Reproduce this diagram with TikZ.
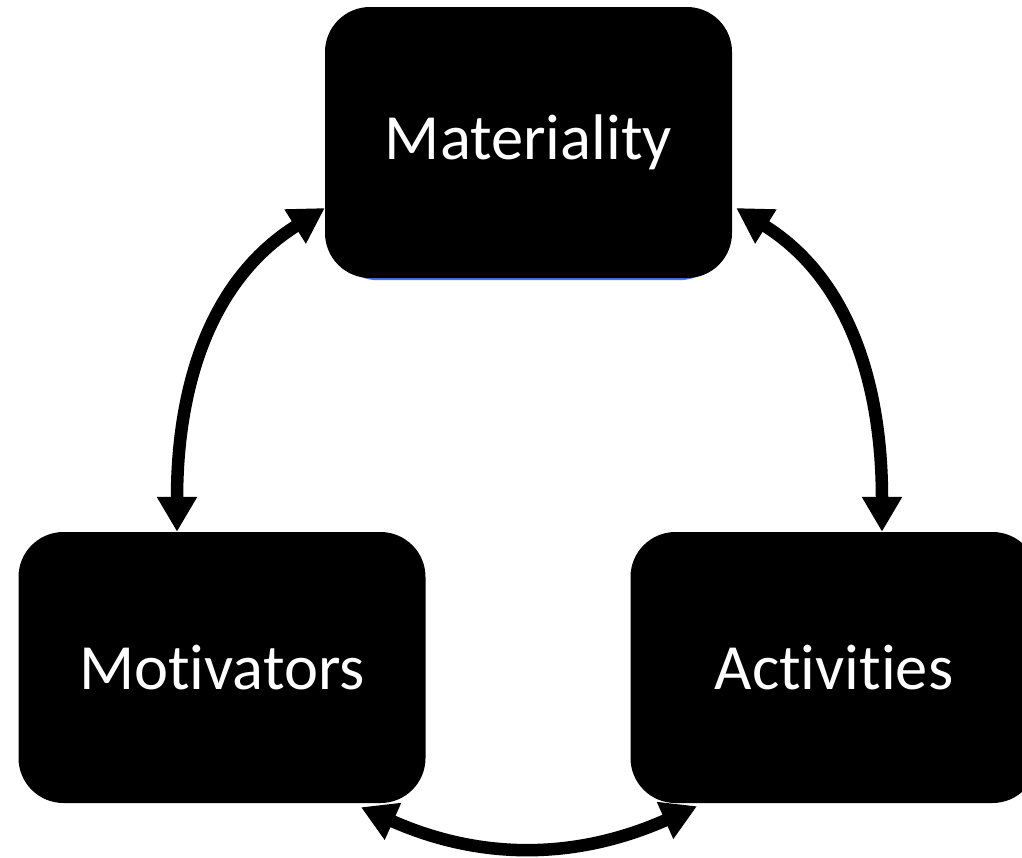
\documentclass[tikz,border=0pt]{standalone}
\usepackage{fontspec}
\setmainfont{Carlito}[Ligatures=CommonOff]
\usetikzlibrary{arrows.meta,backgrounds}
\definecolor{edgeblue}{RGB}{70,120,235}

\begin{document}
\begin{tikzpicture}[x=1pt, y=1pt,
    stage/.style={fill=black, text=white, rounded corners=45pt, minimum width=407pt, minimum height=271pt, inner sep=0pt, font=\fontsize{64.5}{76}\selectfont},
    link/.style={line width=12.5pt, {Triangle[length=35pt,width=38pt]}-{Triangle[length=35pt,width=38pt]}}]
            \useasboundingbox (0,0) rectangle (1022,-857);
            \node [stage] (mat) at (528.5,-142.5) {Materiality};
            \node [stage] (mot) at (222,-667.5) {Motivators};
            \node [stage] (act) at (834,-667.5) {Activities};
            \begin{scope}[on background layer]
                \fill [edgeblue, rounded corners=45pt] ([xshift=8pt, yshift=-2pt]mat.south west) rectangle ([xshift=-8pt, yshift=-2pt]mat.north east);
            \end{scope}
            \draw [link] ([xshift=-45pt]mot.north) to[out=90, in=212] ([yshift=-65.5pt]mat.west);
            \draw [link] ([xshift=4pt, yshift=-65.5pt]mat.east) to[out=-32, in=90] ([xshift=48pt]act.north);
            \draw [link] ([xshift=139pt, yshift=-4pt]mot.south) to[out=-24, in=204] ([xshift=-137pt, yshift=-3pt]act.south);
        \end{tikzpicture}
\end{document}
